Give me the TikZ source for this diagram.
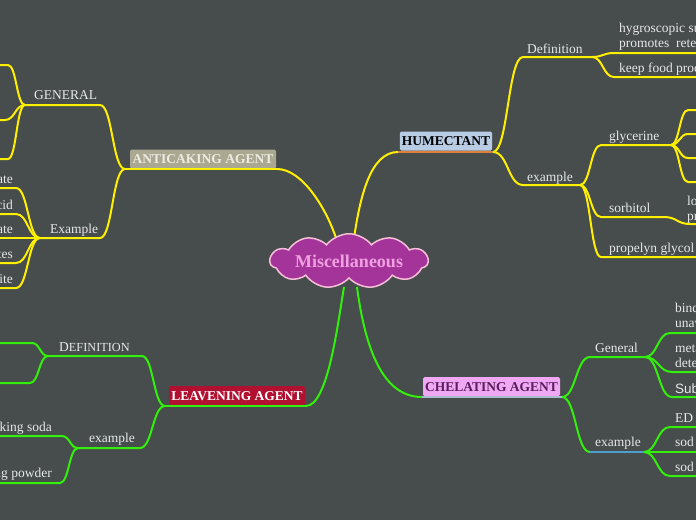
\documentclass[tikz,border=0pt]{standalone}
\usepackage{fontspec}
\setmainfont{Liberation Serif}
\setsansfont{Liberation Sans}
\usetikzlibrary{calc,shapes.symbols}

\begin{document}
\begin{tikzpicture}[x=1pt,y=-1pt,font=\fontsize{13.5}{15}\selectfont,
  lbl/.style={anchor=base west,inner sep=0pt,text=lighttext},
  rlbl/.style={anchor=base east,inner sep=0pt,text=lighttext},
  topic/.style={rounded corners=1.5pt,inner xsep=2pt,inner ysep=0pt,minimum height=19pt,
    text height=9.8pt,text depth=0pt,font=\fontsize{13.5}{15}\selectfont\bfseries},
  yline/.style={draw=yel,line width=2pt},
  gline/.style={draw=grn,line width=2pt},
  sbend/.style={to path={let \p1=(\tikztostart),\p2=(\tikztotarget) in
    .. controls (\x1/2+\x2/2,\y1) and (\x1/2+\x2/2,\y2) .. (\tikztotarget)}}]
  \definecolor{bgcol}{RGB}{71,76,76}
  \definecolor{yel}{RGB}{255,240,0}
  \definecolor{grn}{RGB}{50,240,10}
  \definecolor{lighttext}{RGB}{232,232,232}
  \definecolor{cloudfill}{RGB}{164,52,154}
  \definecolor{cloudedge}{RGB}{245,190,215}
  \definecolor{cloudtext}{RGB}{240,160,225}
  \definecolor{humfill}{RGB}{184,204,228}
  \definecolor{humline}{RGB}{224,128,56}
  \definecolor{antifill}{RGB}{170,168,145}
  \definecolor{antitext}{RGB}{236,236,226}
  \definecolor{leavfill}{RGB}{178,16,48}
  \definecolor{chelfill}{RGB}{240,168,245}
  \definecolor{cheltext}{RGB}{90,30,90}
  \definecolor{chelline}{RGB}{170,190,210}
  \definecolor{exline}{RGB}{80,158,208}
  \fill[bgcol] (0,0) rectangle (696,520);
  \useasboundingbox (0,0) rectangle (696,520);
  \clip (0,0) rectangle (696,520);

  % ends on the cloud
  \coordinate (mA) at (336,238);
  \coordinate (mH) at (354,238);
  \coordinate (mL) at (344,287);
  \coordinate (mC) at (357,287);

  % HUMECTANT
  \node[topic,fill=humfill,text=black,minimum width=92pt] (hum) at (446,141) {HUMECTANT};
  \coordinate (humL) at (398,152);
  \coordinate (humR) at (493,152);
  \draw[humline,line width=2pt] (humL) -- (humR);
  \draw[yline] (mH) .. controls +(6,-40) and +(-28,0) .. (humL);
  \coordinate (defL) at (523,57);
  \coordinate (defR) at (592,57);
  \node[lbl] (def) at (527,53) {Definition};
  \draw[yline] (humR) to[sbend] (defL) -- (defR);
  \coordinate (hygL) at (614,53);
  \coordinate (hygR) at (700,53);
  \node[lbl] (hyg1) at (619,32) {hygroscopic su};
  \node[lbl] (hyg2) at (619,47) {promotes\ \ rete};
  \draw[yline] (defR) to[sbend] (hygL) -- (hygR);
  \coordinate (keepL) at (614,77);
  \coordinate (keepR) at (700,77);
  \node[lbl] (keep) at (619,72) {keep food proc};
  \draw[yline] (defR) to[sbend] (keepL) -- (keepR);
  \coordinate (exaL) at (523,185);
  \coordinate (exaR) at (580,185);
  \node[lbl] (exa) at (527,181) {example};
  \draw[yline] (humR) to[sbend] (exaL) -- (exaR);
  \coordinate (glyL) at (601,145);
  \coordinate (glyR) at (671,145);
  \node[lbl] (gly) at (609,140) {glycerine};
  \draw[yline] (exaR) to[sbend] (glyL) -- (glyR);
  \foreach \yy in {110,134,158,182}
    \draw[yline] (glyR) to[sbend] (688,\yy) -- (700,\yy);
  \coordinate (sorL) at (601,217);
  \coordinate (sorR) at (664,217);
  \coordinate (loL) at (690,224);
  \coordinate (loR) at (700,224);
  \node[lbl] (sor) at (609,212) {sorbitol};
  \node[lbl] (lo1) at (687,205) {lo};
  \node[lbl] (lo2) at (687,220) {pr};
  \draw[yline] (exaR) to[sbend] (sorL) -- (sorR) to[sbend] (loL) -- (loR);
  \coordinate (proL) at (601,257);
  \coordinate (proR) at (700,257);
  \node[lbl] (pro) at (609,252) {propelyn glycol};
  \draw[yline] (exaR) to[sbend] (proL) -- (proR);

  % CHELATING AGENT
  \node[topic,fill=chelfill,text=cheltext,minimum width=137pt] (chel) at (491.5,386.5) {CHELATING AGENT};
  \coordinate (chelL) at (422,397);
  \coordinate (chelR) at (562,397);
  \draw[chelline,line width=2pt] (chelL) -- (chelR);
  \draw[gline] (mC) .. controls +(8,60) and +(-40,0) .. (chelL);
  \coordinate (genL) at (590,357);
  \coordinate (genR) at (645,357);
  \node[lbl] (gen) at (595,352) {General};
  \draw[gline] (chelR) to[sbend] (genL) -- (genR);
  \node[lbl] (bind1) at (675,312) {bind};
  \node[lbl] (bind2) at (675,327) {unav};
  \node[lbl] (meta1) at (675,352) {meta};
  \node[lbl] (meta2) at (675,367) {dete};
  \node[lbl,font=\sffamily\fontsize{13.5}{15}\selectfont] (sub) at (675,393) {Sub};
  \foreach \yy/\xx in {333/670,372/672,397/672}
    \draw[gline] (genR) to[sbend] (\xx,\yy) -- (700,\yy);
  \coordinate (ex2L) at (590,452);
  \coordinate (ex2R) at (644,452);
  \node[lbl] (ex2) at (595,446) {example};
  \draw[gline] (chelR) to[sbend] (ex2L);
  \draw[exline,line width=2pt] (ex2L) -- (ex2R);
  \node[lbl] (edta) at (675,422) {ED};
  \node[lbl] (sod1) at (675,446) {sod};
  \node[lbl] (sod2) at (675,471) {sod};
  \foreach \yy in {427,452,476}
    \draw[gline] (ex2R) to[sbend] (670,\yy) -- (700,\yy);

  % ANTICAKING AGENT
  \node[topic,fill=antifill,text=antitext,minimum width=146pt] (anti) at (203,159) {ANTICAKING AGENT};
  \coordinate (antiL) at (125,169);
  \coordinate (antiR) at (277,169);
  \draw[yline] (antiL) -- (antiR);
  \draw[yline] (antiR) .. controls +(25,0) and +(-10,-30) .. (mA);
  \coordinate (gnR) at (100,105);
  \coordinate (gnL) at (25,105);
  \node[lbl] (gn) at (34,99) {GENERAL};
  \draw[yline] (antiL) to[sbend] (gnR) -- (gnL);
  \foreach \yy/\xx in {65/8,120/5,159/8}
    \draw[yline] (gnL) to[sbend] (\xx,\yy) -- (-5,\yy);
  \coordinate (exAR) at (100,238);
  \coordinate (exAL) at (40,238);
  \node[lbl] (exA) at (50,233) {Example};
  \draw[yline] (antiL) to[sbend] (exAR) -- (exAL);
  \foreach \yy/\tt in {188/nate,214/cid,238/nate,263/tes,288/ite}{
    \node[rlbl] (ex-\yy) at (13,\yy-5) {\tt};
    \draw[yline] (exAL) to[sbend] (16,\yy) -- (-5,\yy);
  }

  % LEAVENING AGENT
  \node[topic,fill=leavfill,text=white,minimum width=136pt] (leav) at (237,395.5) {LEAVENING AGENT};
  \coordinate (leavL) at (165,406);
  \coordinate (leavR) at (306,406);
  \draw[gline] (leavL) -- (leavR);
  \draw[gline] (leavR) .. controls +(22,0) and +(-6,35) .. (mL);
  \coordinate (dfR) at (142,356);
  \coordinate (dfL) at (48,356);
  \node[lbl] (df) at (59,351) {D{\fontsize{12.3}{13}\selectfont EFINITION}};
  \draw[gline] (leavL) to[sbend] (dfR) -- (dfL);
  \foreach \yy/\xx in {343/32,383/30}
    \draw[gline] (dfL) to[sbend] (\xx,\yy) -- (-5,\yy);
  \coordinate (lxR) at (140,448);
  \coordinate (lxL) at (78,448);
  \node[lbl] (lx) at (89,442) {example};
  \draw[gline] (leavL) to[sbend] (lxR) -- (lxL);
  \coordinate (sodaR) at (62,436);
  \coordinate (sodaL) at (-5,436);
  \node[rlbl] (soda) at (52,431) {Baking soda};
  \draw[gline] (lxL) to[sbend] (sodaR) -- (sodaL);
  \coordinate (powR) at (60,483);
  \coordinate (powL) at (-5,483);
  \node[rlbl] (pow) at (52,477) {Baking powder};
  \draw[gline] (lxL) to[sbend] (powR) -- (powL);

  % centre on top of the line ends
  \node[cloud,cloud puffs=11,cloud puff arc=105,aspect=4.4,fill=cloudfill,draw=cloudedge,
    line width=1.5pt,minimum width=158pt,minimum height=38pt,inner sep=0pt,text=cloudtext,
    font=\fontsize{18}{20}\selectfont\bfseries] (misc) at (349,261) {Miscellaneous};
\end{tikzpicture}
\end{document}
